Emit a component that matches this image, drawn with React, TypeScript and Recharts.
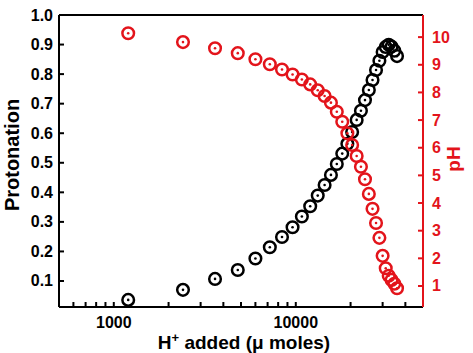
import {
  ScatterChart,
  Scatter,
  XAxis,
  YAxis,
  ReferenceLine,
} from "recharts";

// H+ added (µ moles), same x for both series
const hAdded = [
  1200, 2400, 3600, 4800, 6000, 7200, 8400, 9600, 10800, 12000,
  13200, 14400, 15600, 16800, 18000, 19200, 20400, 21600, 22800, 24000,
  25200, 26400, 27600, 28800, 30000, 31200, 32400, 33600, 34800, 36000,
];

const protonation = [
  0.036, 0.07, 0.107, 0.137, 0.176, 0.214, 0.249, 0.282, 0.318, 0.353,
  0.389, 0.425, 0.459, 0.496, 0.531, 0.564, 0.604, 0.645, 0.676, 0.712,
  0.746, 0.78, 0.814, 0.845, 0.875, 0.892, 0.899, 0.893, 0.879, 0.861,
];

const pH = [
  10.14, 9.82, 9.6, 9.42, 9.2, 9.02, 8.83, 8.65, 8.47, 8.29,
  8.08, 7.87, 7.63, 7.3, 6.94, 6.52, 6.1, 5.7, 5.31, 4.86,
  4.33, 3.79, 3.28, 2.74, 2.09, 1.64, 1.37, 1.22, 1.08, 0.92,
];

const xTicks = [
  600, 700, 800, 900, 1000, 2000, 3000, 4000, 5000, 6000, 7000, 8000, 9000,
  10000, 20000, 30000, 40000,
];
const xLabels = [1000, 10000];
const leftTicks = [0.1, 0.2, 0.3, 0.4, 0.5, 0.6, 0.7, 0.8, 0.9, 1.0];
const rightTicks = [1, 2, 3, 4, 5, 6, 7, 8, 9, 10];

const RED = "#e3141b";
const FONT = "'Liberation Sans', Arial, sans-serif";

const protData = hAdded.map((x, i) => ({ x, y: protonation[i] }));
const phData = hAdded.map((x, i) => ({ x, y: pH[i] }));

const marker = (color: string) => (props: any) => {
  const { cx, cy } = props;
  if (cx == null || cy == null) return <g />;
  return (
    <g>
      <circle cx={cx} cy={cy} r={5.8} fill="none" stroke={color} strokeWidth={2.5} />
      <circle cx={cx} cy={cy} r={1.3} fill={color} />
    </g>
  );
};

const XTick = (props: any) => {
  const { x, y, payload } = props;
  const show = xLabels.includes(payload.value);
  return (
    <g>
      <line x1={x} x2={x} y1={y} y2={y - 5} stroke="#000" strokeWidth={2} />
      {show && (
        <text x={x} y={y + 21} textAnchor="middle" fontSize={16} fontWeight="bold" fontFamily={FONT} fill="#000">
          {payload.value}
        </text>
      )}
    </g>
  );
};

const LeftTick = (props: any) => {
  const { x, y, payload } = props;
  return (
    <g>
      <line x1={x} x2={x + 5} y1={y} y2={y} stroke="#000" strokeWidth={2} />
      <text x={x - 6} y={y} textAnchor="end" dominantBaseline="central" fontSize={16} fontWeight="bold" fontFamily={FONT} fill="#000">
        {Number(payload.value).toFixed(1)}
      </text>
    </g>
  );
};

const RightTick = (props: any) => {
  const { x, y, payload } = props;
  return (
    <g>
      <line x1={x} x2={x - 5} y1={y} y2={y} stroke={RED} strokeWidth={2} />
      <text x={x + 9} y={y} textAnchor="start" dominantBaseline="central" fontSize={16} fontWeight="bold" fontFamily={FONT} fill={RED}>
        {payload.value}
      </text>
    </g>
  );
};

export default function App() {
  return (
    <div style={{ position: "absolute", left: 0, top: 0, background: "#fff" }}>
      <ScatterChart width={473} height={353} margin={{ top: 15, right: 0, bottom: 0, left: 0 }}>
        <XAxis
          dataKey="x"
          type="number"
          scale="log"
          domain={[500, 50000]}
          allowDataOverflow
          ticks={xTicks}
          interval={0}
          height={46}
          tickSize={0}
          tickMargin={0}
          tickLine={false}
          tick={<XTick />}
          axisLine={{ stroke: "#000", strokeWidth: 2 }}
          label={{
            content: () => (
              <text x={244} y={349} textAnchor="middle" fontSize={19} fontWeight="bold" fontFamily={FONT} fill="#000">
                H<tspan fontSize={13} dy={-7}>+</tspan>
                <tspan dy={7}> added (μ moles)</tspan>
              </text>
            ),
          }}
        />
        <YAxis
          yAxisId="left"
          dataKey="y"
          type="number"
          domain={[0.012, 1.0]}
          allowDataOverflow
          ticks={leftTicks}
          interval={0}
          width={59}
          tickSize={0}
          tickMargin={0}
          tickLine={false}
          tick={<LeftTick />}
          axisLine={{ stroke: "#000", strokeWidth: 2 }}
          label={{
            content: () => (
              <text
                x={19}
                y={155}
                transform="rotate(-90 19 155)"
                textAnchor="middle"
                fontSize={20}
                fontWeight="bold"
                fontFamily={FONT}
                fill="#000"
              >
                Protonation
              </text>
            ),
          }}
        />
        <YAxis
          yAxisId="right"
          orientation="right"
          dataKey="y"
          type="number"
          domain={[0.24, 10.8]}
          allowDataOverflow
          ticks={rightTicks}
          interval={0}
          width={50}
          tickSize={0}
          tickMargin={0}
          tickLine={false}
          tick={<RightTick />}
          axisLine={{ stroke: RED, strokeWidth: 2 }}
          label={{
            content: () => (
              <text
                x={460}
                y={159}
                transform="rotate(-90 460 159)"
                textAnchor="middle"
                fontSize={19}
                fontWeight="bold"
                fontFamily={FONT}
                fill={RED}
              >
                pH
              </text>
            ),
          }}
        />
        <ReferenceLine yAxisId="left" y={1.0} stroke="#000" strokeWidth={2} ifOverflow="extendDomain" />
        <Scatter
          yAxisId="left"
          data={protData}
          shape={marker("#000")}
          isAnimationActive={false}
        />
        <Scatter
          yAxisId="right"
          data={phData}
          shape={marker(RED)}
          isAnimationActive={false}
        />
      </ScatterChart>
    </div>
  );
}
